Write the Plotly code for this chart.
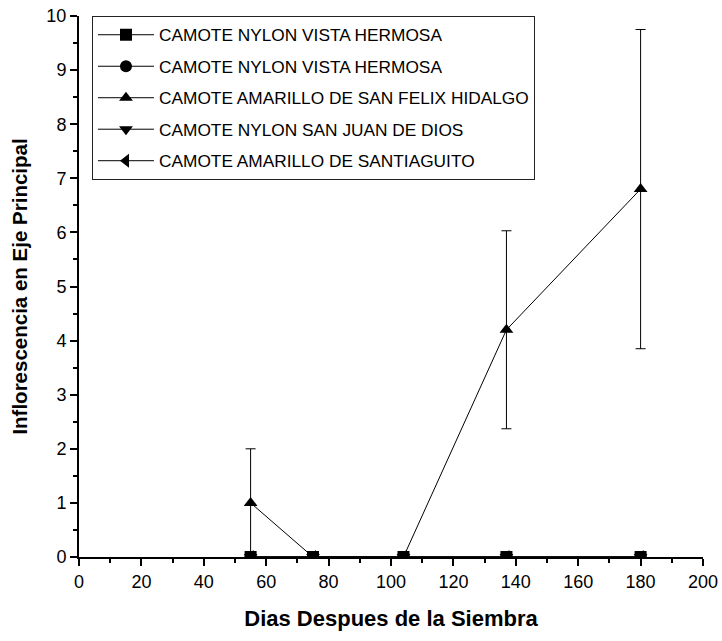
import plotly.graph_objects as go

dias = [55, 75, 104, 137, 180]
series_names = [
    "CAMOTE NYLON VISTA HERMOSA",
    "CAMOTE NYLON VISTA HERMOSA",
    "CAMOTE AMARILLO DE SAN FELIX HIDALGO",
    "CAMOTE NYLON SAN JUAN DE DIOS",
    "CAMOTE AMARILLO DE SANTIAGUITO",
]
symbols = ["square", "circle", "triangle-up", "triangle-down", "triangle-left"]
vals_s1 = [0, 0, 0, 0, 0]
vals_s2 = [0, 0, 0, 0, 0]
vals_s3 = [1.0, 0, 0, 4.2, 6.8]
err_s3 = [1.0, 0, 0, 1.83, 2.95]
vals_s4 = [0, 0, 0, 0, 0]
vals_s5 = [0, 0, 0, 0, 0]

all_vals = [vals_s1, vals_s2, vals_s3, vals_s4, vals_s5]
all_errs = [None, None, err_s3, None, None]

FONT = "Liberation Sans, Arial, sans-serif"

fig = go.Figure()
for i, (name, sym, v, e) in enumerate(zip(series_names, symbols, all_vals, all_errs)):
    tr = dict(
        x=dias, y=v, name=name, mode="lines+markers",
        legendgroup="g%d" % i,
        line=dict(color="black", width=1),
        marker=dict(symbol=sym, size=12, color="black"),
    )
    if e is not None:
        tr["error_y"] = dict(type="data", array=e, visible=True,
                             color="black", thickness=1, width=5)
    fig.add_trace(go.Scatter(**tr))

tick_font = dict(family=FONT, size=18, color="black")
fig.update_layout(
    width=722, height=641,
    margin=dict(l=79, r=19, t=16, b=84),
    paper_bgcolor="white", plot_bgcolor="white",
    font=dict(family=FONT, size=16, color="black"),
    showlegend=True,
    legend=dict(
        x=0.0208, y=1.0, xanchor="left", yanchor="top",
        bordercolor="#222222", borderwidth=1,
        font=dict(family=FONT, size=17.3, color="black"),
        tracegroupgap=6, itemwidth=56,
        bgcolor="white",
    ),
    xaxis=dict(
        range=[0, 200], dtick=20, tick0=0, automargin=False,
        showgrid=False, zeroline=False,
        showline=True, linecolor="black", linewidth=2,
        ticks="outside", ticklen=7, tickwidth=2, tickcolor="black",
        minor=dict(dtick=10, ticks="outside", ticklen=4, tickwidth=2, tickcolor="black"),
        title=dict(text="<b>Dias Despues de la Siembra</b>",
                   font=dict(family=FONT, size=22, color="black"),
                   standoff=20),
        tickfont=tick_font,
    ),
    yaxis=dict(
        range=[0, 10], dtick=1, tick0=0, automargin=False,
        showgrid=False, zeroline=False,
        showline=True, linecolor="black", linewidth=2,
        ticks="outside", ticklen=7, tickwidth=2, tickcolor="black",
        minor=dict(dtick=0.5, ticks="outside", ticklen=4, tickwidth=2, tickcolor="black"),
        title=dict(text="<b>Inflorescencia en Eje Principal</b>",
                   font=dict(family=FONT, size=20.5, color="black"),
                   standoff=13),
        tickfont=tick_font,
    ),
)

fig.write_html("out.html")
